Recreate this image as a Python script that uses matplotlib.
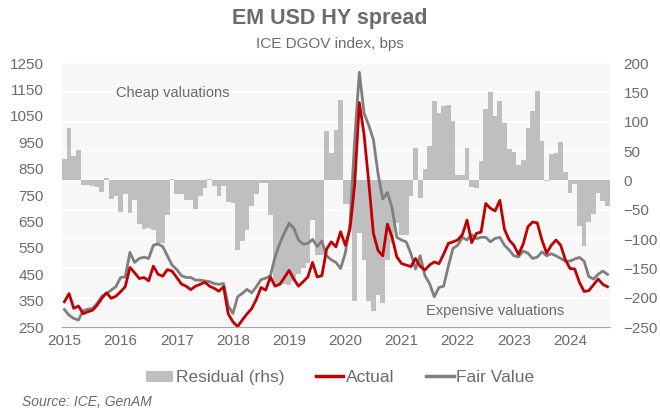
import matplotlib

matplotlib.use("Agg")
import matplotlib.pyplot as plt
import numpy as np
from matplotlib.lines import Line2D
from matplotlib.patches import Patch

plt.rcParams["font.family"] = ["Liberation Sans", "DejaVu Sans"]

# monthly data, Jan 2015 .. Sep 2024
years = [2015, 2016, 2017, 2018, 2019, 2020, 2021, 2022, 2023, 2024]

residual = [
    37, 89, 42, 52, -8, -8, -9, -11, -19, 4, -31, -27,
    -53, -23, -55, -33, -74, -82, -81, -84, -106, -106, -59, 2,
    -24, -24, -33, -33, -48, -27, -13, 3, -10, -26, -10, -36,
    -39, -118, -104, -84, -44, -24, -5, -5, -59, -176, -178, -176,
    -178, -172, -160, -150, -141, -67, -127, -127, 84, 47, 86, 137,
    -41, -41, -206, -90, -135, -206, -223, -195, -209, -135, -107, -73,
    -93, -93, -27, 55, -30, 19, 59, 135, 115, 127, 128, 101,
    9, 10, 55, -11, -13, 33, 122, 151, 110, 135, 98, 53,
    48, 26, 34, 89, 118, 152, 68, -1, 45, 46, 66, 15,
    -21, -6, -77, -112, -71, -57, -22, -35, -43,
]

actual = [
    346, 377, 321, 330, 301, 308, 314, 333, 359, 380, 359, 367,
    384, 403, 476, 456, 434, 438, 425, 481, 450, 443, 468, 462,
    438, 413, 405, 392, 405, 412, 420, 405, 397, 386, 403, 300,
    270, 252, 277, 300, 320, 355, 400, 390, 440, 405, 412, 438,
    465, 432, 405, 422, 440, 495, 440, 445, 545, 573, 554, 611,
    560, 620, 790, 1100, 980, 800, 605, 540, 520, 640, 590, 516,
    491, 485, 479, 510, 480, 466, 485, 497, 490, 526, 567, 573,
    580, 600, 655, 570, 605, 610, 718, 700, 690, 730, 620, 580,
    560, 525, 565, 630, 648, 645, 580, 530, 560, 580, 560, 505,
    472, 470, 420, 385, 388, 410, 432, 412, 403,
]

fair_value = [
    317, 295, 283, 277, 312, 318, 320, 340, 367, 377, 390, 403,
    438, 440, 533, 495, 510, 515, 510, 560, 565, 555, 520, 485,
    468, 445, 438, 438, 428, 428, 425, 422, 415, 412, 415, 330,
    302, 365, 378, 393, 380, 403, 430, 435, 445, 516, 567, 607,
    643, 625, 580, 564, 567, 582, 555, 576, 520, 505, 495, 472,
    530, 640, 960, 1215, 1060, 1015, 960, 830, 735, 760, 700, 590,
    580, 573, 529, 470, 520, 445, 415, 365, 400, 405, 480, 548,
    560, 590, 580, 600, 585, 590, 590, 573, 586, 590, 560, 542,
    520, 516, 538, 530, 510, 515, 535, 520, 528, 520, 510, 500,
    500, 508, 514, 500, 442, 432, 450, 462, 450,
]

TEXT_COLOR = "#6b6b6b"
BAR_COLOR = "#bfbfbf"
ACTUAL_COLOR = "#c00000"
FAIR_COLOR = "#7f7f7f"

positions = np.arange(len(residual)) + 0.5

figure = plt.figure(figsize=(6.6, 4.12), dpi=100)
axis_right = figure.add_axes([0.094, 0.206, 0.830, 0.641])
axis_left = axis_right.twinx()
axis_left.yaxis.tick_left()
axis_right.yaxis.tick_right()
axis_left.set_zorder(2)
axis_left.patch.set_visible(False)
axis_right.set_facecolor("#f7f7f7")

axis_right.bar(positions, residual, width=1.0, color=BAR_COLOR, linewidth=0, zorder=2)
axis_right.set_ylim(-250, 200)
axis_right.set_yticks(np.arange(-250, 201, 50))
axis_right.grid(axis="y", color="white", linewidth=1.2, zorder=1)
axis_right.set_axisbelow(True)

axis_left.plot(positions, fair_value, color=FAIR_COLOR, linewidth=2.0)
axis_left.plot(positions, actual, color=ACTUAL_COLOR, linewidth=2.0)
axis_left.set_ylim(250, 1250)
axis_left.set_yticks(np.arange(250, 1251, 100))

axis_right.set_xlim(0, len(residual))
axis_right.set_xticks([12 * k + 0.5 for k in range(len(years))], [str(y) for y in years])

for axis in (axis_left, axis_right):
    for side in ("top", "left", "right"):
        axis.spines[side].set_visible(False)
    axis.spines["bottom"].set_color("#a6a6a6")
    axis.tick_params(length=0, labelsize=11, colors=TEXT_COLOR, pad=6)
axis_left.tick_params(axis="y", pad=13)
axis_right.tick_params(axis="y", pad=10)
axis_right.tick_params(axis="x", pad=5)

axis_left.text(23.6, 1135, "Cheap valuations", fontsize=10.5, color=TEXT_COLOR,
               ha="center", va="center")
axis_left.text(92.5, 312, "Expensive valuations", fontsize=10.5, color=TEXT_COLOR,
               ha="center", va="center")

figure.text(0.5, 0.955, "EM USD HY spread", fontsize=15.5, fontweight="bold",
            color=TEXT_COLOR, ha="center", va="center")
figure.text(0.5, 0.893, "ICE DGOV index, bps", fontsize=11, color=TEXT_COLOR,
            ha="center", va="center")
figure.text(0.033, 0.025, "Source: ICE, GenAM", fontsize=10, style="italic",
            color=TEXT_COLOR, va="center")

handles = [
    Patch(facecolor=BAR_COLOR, label="Residual (rhs)"),
    Line2D([], [], color=ACTUAL_COLOR, linewidth=2.5, label="Actual"),
    Line2D([], [], color=FAIR_COLOR, linewidth=2.5, label="Fair Value"),
]
figure.legend(handles=handles, loc="center", bbox_to_anchor=(0.515, 0.083), ncol=3,
              frameon=False, fontsize=12.5, labelcolor=TEXT_COLOR,
              handlelength=1.6, handleheight=0.6, handletextpad=0.15, columnspacing=1.8)

figure.savefig("out.png", dpi=100)
plt.close(figure)
